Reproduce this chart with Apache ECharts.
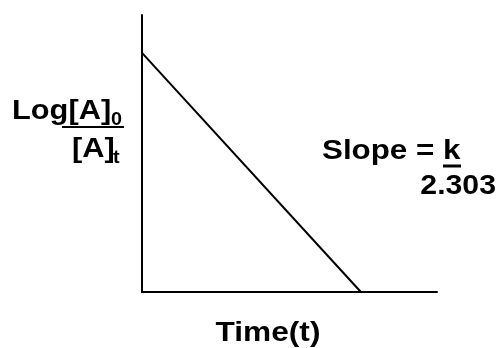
<!DOCTYPE html>
<html><head><meta charset="utf-8">
<script src="https://cdn.jsdelivr.net/npm/echarts@6/dist/echarts.min.js"></script>
<style>html,body{margin:0;padding:0;background:#fff}#c{width:502px;height:348px}</style>
</head><body><div id="c"></div>
<script>
const timeValues = [0, 7.42];
const logValues = [8.63, 0];
const xAxisTitle = 'Time(t)';
const yLabelTop = 'Log[A]';
const yLabelTopSub = '0';
const yLabelBottom = '[A]';
const yLabelBottomSub = 't';
const slopeTop = 'Slope = ';
const slopeK = 'k';
const slopeBottom = '2.303';

const FF = '"Liberation Sans", Arial, sans-serif';
function txt(x, y, s, size, align, sx) {
  return { type: 'text', x: x, y: y, scaleX: sx || 1,
    style: { text: s, font: 'bold ' + size + 'px ' + FF, fill: '#000', textAlign: align || 'left', textVerticalAlign: 'middle' } };
}
function ln(x1, y1, x2, y2, w) {
  return { type: 'line', shape: { x1: x1, y1: y1, x2: x2, y2: y2 }, style: { stroke: '#000', lineWidth: w || 2 } };
}
const chart = echarts.init(document.getElementById('c'), null, { renderer: 'canvas' });
const axisCommon = {
  type: 'value', min: 0, max: 10,
  axisLine: { show: true, lineStyle: { color: '#000', width: 2 } },
  axisTick: { show: false }, axisLabel: { show: false }, splitLine: { show: false }
};
chart.setOption({
  animation: false,
  backgroundColor: '#fff',
  grid: { left: 142, right: 65, top: 15, bottom: 56 },
  xAxis: Object.assign({}, axisCommon),
  yAxis: Object.assign({}, axisCommon),
  series: [{
    type: 'line', showSymbol: false,
    data: timeValues.map((t, i) => [t, logValues[i]]),
    lineStyle: { color: '#000', width: 2 }
  }],
  graphic: [
    txt(268, 333, xAxisTitle, 28, 'center', 1.13),
    txt(12, 112, yLabelTop, 27, 'left', 1.14),
    txt(111, 120, yLabelTopSub, 18, 'left', 1.1),
    ln(62, 127, 124, 127, 2),
    txt(72, 150, yLabelBottom, 27, 'left', 1.14),
    txt(113, 158, yLabelBottomSub, 18, 'left', 1.1),
    txt(322, 152, slopeTop + slopeK, 27, 'left', 1.16),
    ln(443, 166, 461, 166, 3),
    txt(496, 186, slopeBottom, 28, 'right', 1.08)
  ]
});
</script></body></html>
